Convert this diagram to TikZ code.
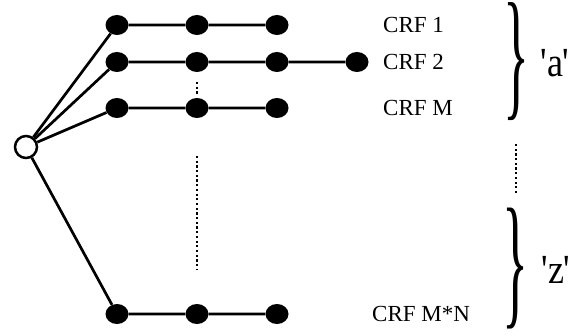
\documentclass[tikz,border=0pt]{standalone}
\usepackage{fontspec}
\setmainfont{Liberation Serif}
\usetikzlibrary{shapes.geometric}
\begin{document}
\begin{tikzpicture}[x=1pt,y=-1pt,
 dot/.style={ellipse,fill=black,minimum width=23pt,minimum height=20pt,inner sep=0pt},
 root/.style={circle,draw,line width=2.5pt,fill=white,minimum size=22pt,inner sep=0pt},
 edge/.style={line width=2.7pt},
 dotline/.style={line width=2.5pt,dash pattern=on 2.2pt off 2.5pt},
 lbl/.style={font=\fontsize{23}{23}\selectfont,anchor=west,inner sep=0pt},
 big/.style={font=\fontsize{36}{36}\selectfont,inner sep=0pt,yscale=1.15},
 brace/.style={inner sep=0pt}]
\useasboundingbox (0,0) rectangle (583,336);
% row 1
\node[dot] (a1) at (117,25) {};
\node[dot] (a2) at (197,25) {};
\node[dot] (a3) at (277,25) {};
% row 2
\node[dot] (b1) at (117,62) {};
\node[dot] (b2) at (197,62) {};
\node[dot] (b3) at (277,62) {};
\node[dot] (b4) at (357,62) {};
% row 3
\node[dot] (c1) at (117,108) {};
\node[dot] (c2) at (197,108) {};
\node[dot] (c3) at (277,108) {};
% bottom row
\node[dot] (d1) at (117,314) {};
\node[dot] (d2) at (197,314) {};
\node[dot] (d3) at (277,314) {};
% root
\node[root] (r) at (26,147) {};
% edges
\draw[edge] (r) -- (a1) -- (a2) -- (a3);
\draw[edge] (r) -- (b1) -- (b2) -- (b3) -- (b4);
\draw[edge] (r) -- (c1) -- (c2) -- (c3);
\draw[edge] (r) -- (d1) -- (d2) -- (d3);
% dotted continuations
\coordinate (s1) at (197,82);
\coordinate (s2) at (197,95);
\draw[dotline] (s1) -- (s2);
\coordinate (m1) at (197,156);
\coordinate (m2) at (197,270);
\draw[dotline] (m1) -- (m2);
\coordinate (q1) at (516,144);
\coordinate (q2) at (516,194);
\draw[dotline] (q1) -- (q2);
% labels
\node[lbl] (l1) at (383,25) {CRF 1};
\node[lbl] (l2) at (383,62) {CRF 2};
\node[lbl] (l3) at (383,108) {CRF M};
\node[lbl] (l4) at (372,314) {CRF M*N};
% braces
\node[brace] (ba) at (516,62) {\resizebox*{26pt}{118pt}{\}}};
\node[brace] (bz) at (515,269) {\resizebox*{26pt}{121pt}{\}}};
\node[big] (ta) at (555,63) {\textquotesingle a\textquotesingle};
\node[big] (tz) at (556,270) {\textquotesingle z\textquotesingle};
\end{tikzpicture}
\end{document}
